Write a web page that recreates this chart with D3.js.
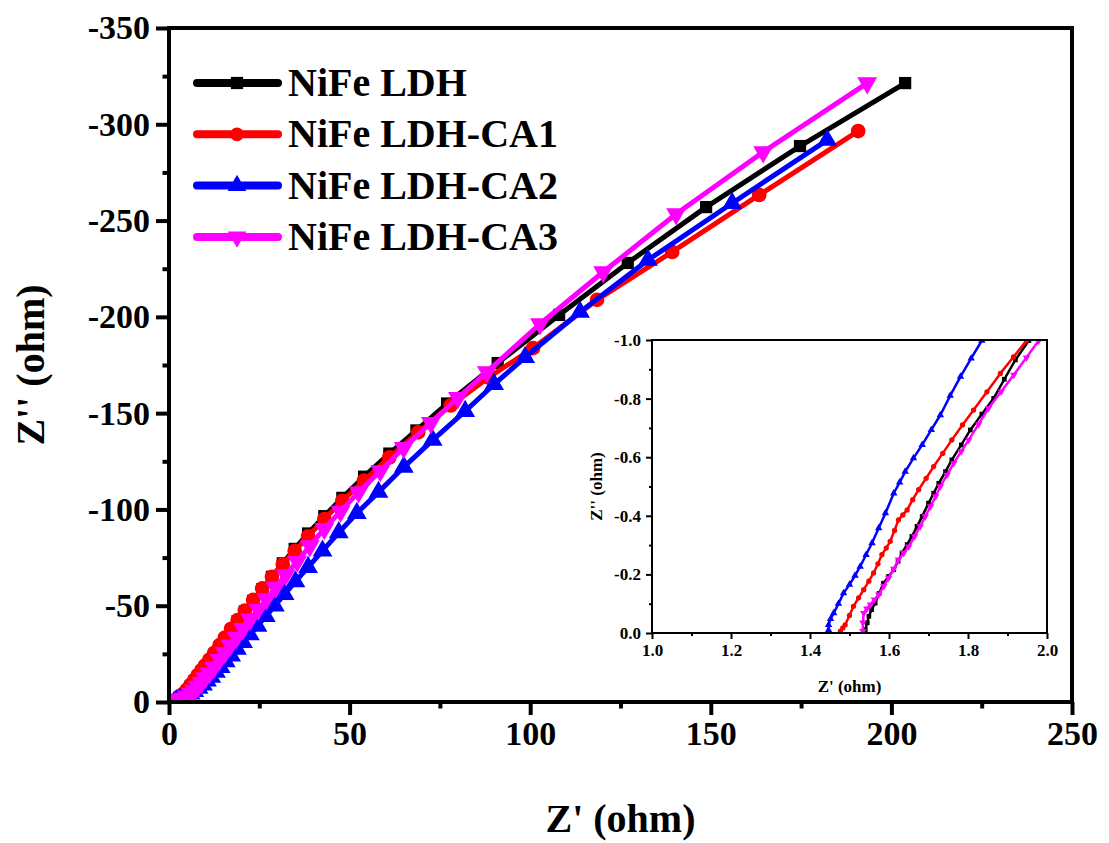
<!DOCTYPE html>
<html>
<head>
<meta charset="utf-8">
<script src="https://cdn.jsdelivr.net/npm/d3@7/dist/d3.min.js"></script>
<style>
  body { margin: 0; background: #fff; }
  text { font-family: "Liberation Serif", "Times New Roman", serif; font-weight: bold; }
</style>
</head>
<body>
<div id="chart"></div>
<script>
// series names and colours
const seriesNames = ["NiFe LDH", "NiFe LDH-CA1", "NiFe LDH-CA2", "NiFe LDH-CA3"];
const seriesColors = ["#000000", "#ff0000", "#0000ff", "#ff00ff"];
const seriesSymbols = ["square", "circle", "triangleUp", "triangleDown"];

// main Nyquist data: [Z', Z'']
const ldh = [[1.54,0],[2,-1],[3,-2],[4,-3.5],[5,-5.5],[6,-8],[7,-10.5],[8,-13],[9,-15.5],[10,-18],[11.2,-21],[12.5,-24.5],[14,-28.5],[15.5,-32.5],[17.2,-37],[19,-42],[21,-47],[23.3,-52.5],[25.8,-58.5],[28.5,-65],[31.5,-72],[34.8,-79.5],[38.5,-87.5],[43,-96.5],[48,-106],[54,-117],[61,-129],[68.5,-141],[77,-155],[91,-176],[108,-201],[127,-228],[148.7,-257],[174.7,-288.7],[203.8,-321.4]];
const ca1 = [[1.48,0],[2,-1.2],[3,-2.6],[4,-4.3],[5,-6.5],[6,-9],[7,-11.5],[8,-14],[9,-16.5],[10,-19],[11.2,-22],[12.5,-25.5],[14,-29.5],[15.5,-33.5],[17.2,-38],[19,-42.5],[21,-47.5],[23.3,-53],[25.8,-59],[28.5,-65],[31.5,-71.5],[34.8,-78.5],[38.5,-86],[43,-95],[48,-104.5],[54,-115],[61,-127],[69,-140],[78,-154],[88.5,-168.5],[100.8,-183.8],[118.5,-208.8],[139.3,-233.7],[163.4,-263.3],[190.8,-296.5]];
const ca2 = [[1.45,0],[2,-0.8],[3,-1.5],[4,-2.3],[5,-3.2],[6,-4.3],[7,-5.6],[8.2,-7.2],[9.4,-9],[10.5,-11],[11.7,-13],[13,-15.5],[14.3,-18],[15.7,-21],[17.2,-24],[18.8,-27.5],[20.5,-31],[22.4,-35],[24.5,-39.5],[26.8,-44.5],[29.3,-50],[32,-56],[35,-62.5],[38.5,-70],[42.5,-78.5],[47,-88],[52,-98],[58,-109],[65,-122],[73,-136],[82,-151],[90,-165],[98.6,-179],[113.8,-202.5],[132.6,-229.5],[155.9,-259],[182.2,-291.8]];
const ca3 = [[1.53,0],[2,-0.8],[3,-1.3],[4,-2],[5,-3],[6,-4.5],[7,-6],[8,-8],[9,-10],[10,-12.5],[11.2,-15],[12.5,-18],[14,-22],[15.5,-25.5],[17,-29.5],[18.7,-33.5],[20.5,-38],[22.5,-43],[24.7,-48],[27,-53.5],[29.5,-59.5],[32.3,-66],[35.5,-73],[39,-81],[43,-90],[47.5,-99],[52.5,-109],[58.5,-120],[65,-132],[72.5,-145],[80,-158],[88,-171.4],[102.7,-196.3],[120.2,-223.3],[140.4,-253.4],[164.5,-285.6],[193.3,-321.4]];

// inset (high frequency) data
const ldhIn = [[1.54,-0.011],[1.545,-0.035],[1.549,-0.057],[1.556,-0.08],[1.565,-0.102],[1.575,-0.135],[1.586,-0.17],[1.599,-0.193],[1.612,-0.216],[1.623,-0.245],[1.633,-0.273],[1.646,-0.302],[1.658,-0.33],[1.671,-0.364],[1.684,-0.398],[1.7,-0.443],[1.713,-0.477],[1.726,-0.511],[1.743,-0.551],[1.759,-0.591],[1.783,-0.642],[1.806,-0.693],[1.835,-0.747],[1.865,-0.801],[1.892,-0.866],[1.92,-0.932],[1.954,-0.998]];
const ca1In = [[1.477,-0.006],[1.483,-0.017],[1.489,-0.028],[1.5,-0.06],[1.51,-0.091],[1.523,-0.12],[1.536,-0.148],[1.549,-0.177],[1.561,-0.205],[1.572,-0.236],[1.582,-0.267],[1.593,-0.29],[1.603,-0.313],[1.614,-0.35],[1.624,-0.386],[1.635,-0.403],[1.646,-0.42],[1.66,-0.455],[1.675,-0.489],[1.694,-0.528],[1.713,-0.568],[1.736,-0.613],[1.759,-0.659],[1.786,-0.71],[1.814,-0.761],[1.848,-0.823],[1.882,-0.886],[1.915,-0.942],[1.948,-0.998]];
const ca2In = [[1.447,-0.01],[1.447,-0.028],[1.452,-0.048],[1.46,-0.068],[1.472,-0.1],[1.485,-0.136],[1.5,-0.165],[1.514,-0.196],[1.527,-0.227],[1.542,-0.267],[1.557,-0.307],[1.574,-0.358],[1.591,-0.409],[1.612,-0.477],[1.627,-0.514],[1.641,-0.551],[1.662,-0.597],[1.684,-0.642],[1.707,-0.693],[1.73,-0.744],[1.755,-0.81],[1.781,-0.875],[1.808,-0.937],[1.835,-0.998]];
const ca3In = [[1.534,-0.006],[1.534,-0.035],[1.536,-0.068],[1.544,-0.083],[1.553,-0.097],[1.563,-0.114],[1.574,-0.131],[1.587,-0.16],[1.599,-0.188],[1.612,-0.219],[1.624,-0.25],[1.637,-0.273],[1.65,-0.295],[1.665,-0.33],[1.679,-0.364],[1.692,-0.398],[1.705,-0.432],[1.718,-0.466],[1.73,-0.5],[1.747,-0.54],[1.764,-0.58],[1.783,-0.62],[1.802,-0.659],[1.827,-0.713],[1.852,-0.767],[1.884,-0.824],[1.916,-0.881],[1.948,-0.94],[1.979,-0.998]];

const mainData = [ldh, ca1, ca2, ca3];
const insetData = [ldhIn, ca1In, ca2In, ca3In];

const xTicks = [0, 50, 100, 150, 200, 250];
const yTicks = [0, -50, -100, -150, -200, -250, -300, -350];
const inXTicks = [1.0, 1.2, 1.4, 1.6, 1.8, 2.0];
const inYTicks = [0.0, -0.2, -0.4, -0.6, -0.8, -1.0];

const width = 1109, height = 843;
const svg = d3.select("#chart").append("svg")
    .attr("width", width)
    .attr("height", height);

function symbolPath(kind, size) {
    const t = {
        square: d3.symbolSquare, circle: d3.symbolCircle,
        triangleUp: d3.symbolTriangle, triangleDown: d3.symbolTriangle
    }[kind];
    return d3.symbol(t, size)();
}

function drawPanel(g, opt) {
    const x = d3.scaleLinear().domain(opt.xDomain).range([opt.left, opt.right]);
    const y = d3.scaleLinear().domain(opt.yDomain).range([opt.bottom, opt.top]);

    const clipId = opt.id + "-clip";
    g.append("clipPath").attr("id", clipId)
        .append("rect")
        .attr("x", opt.left).attr("y", opt.top)
        .attr("width", opt.right - opt.left).attr("height", opt.bottom - opt.top);

    const plot = g.append("g").attr("clip-path", `url(#${clipId})`);
    const line = d3.line().x(d => x(d[0])).y(d => y(d[1]));

    opt.data.forEach((series, i) => {
        plot.append("path")
            .datum(series)
            .attr("fill", "none")
            .attr("stroke", seriesColors[i])
            .attr("stroke-width", opt.lineWidth)
            .attr("stroke-linejoin", "round")
            .attr("d", line);
        plot.selectAll(null)
            .data(series)
            .join("path")
            .attr("transform", d => `translate(${x(d[0])},${y(d[1])})` +
                (seriesSymbols[i] === "triangleDown" ? " rotate(180)" : ""))
            .attr("fill", seriesColors[i])
            .attr("d", symbolPath(seriesSymbols[i], opt.markerSize[i]));
    });

    // axes
    const xAxis = d3.axisBottom(x).tickValues(opt.xTicks).tickSize(opt.tickLen)
        .tickPadding(opt.tickPad).tickFormat(opt.xFormat);
    const yAxis = d3.axisLeft(y).tickValues(opt.yTicks).tickSize(opt.tickLen)
        .tickPadding(opt.tickPad).tickFormat(opt.yFormat);
    const xMinor = d3.axisBottom(x).tickValues(opt.xMinor).tickSize(opt.tickLen / 2).tickFormat("");
    const yMinor = d3.axisLeft(y).tickValues(opt.yMinor).tickSize(opt.tickLen / 2).tickFormat("");

    [[xAxis, xMinor, `translate(0,${opt.bottom})`], [yAxis, yMinor, `translate(${opt.left},0)`]]
        .forEach(([ax, mi, tr]) => {
            const a = g.append("g").attr("transform", tr).call(ax);
            const m = g.append("g").attr("transform", tr).call(mi);
            [a, m].forEach(s => {
                s.select(".domain").remove();
                s.selectAll("line").attr("stroke", "#000").attr("stroke-width", opt.axisWidth);
            });
            a.selectAll("text").attr("fill", "#000").style("font-size", opt.tickFont + "px");
        });

    g.append("rect")
        .attr("x", opt.left).attr("y", opt.top)
        .attr("width", opt.right - opt.left).attr("height", opt.bottom - opt.top)
        .attr("fill", "none").attr("stroke", "#000").attr("stroke-width", opt.axisWidth);

    g.append("text")
        .attr("x", (opt.left + opt.right) / 2).attr("y", opt.xTitleY)
        .attr("text-anchor", "middle")
        .style("font-size", opt.titleFont + "px")
        .text("Z' (ohm)");
    g.append("text")
        .attr("transform", `translate(${opt.yTitleX},${(opt.top + opt.bottom) / 2}) rotate(-90)`)
        .attr("text-anchor", "middle")
        .style("font-size", opt.titleFont + "px")
        .text("Z'' (ohm)");
    return { x, y };
}

// main panel
drawPanel(svg.append("g"), {
    id: "main",
    left: 169, right: 1072, top: 28, bottom: 702,
    xDomain: [0, 250], yDomain: [0, -350],
    data: mainData,
    lineWidth: 5, markerSize: [150, 170, 170, 170],
    xTicks: xTicks, yTicks: yTicks,
    xMinor: d3.range(25, 250, 50), yMinor: d3.range(-25, -350, -50),
    xFormat: d3.format("d"), yFormat: d => d3.format("d")(d).replace("−", "-"),
    tickLen: 13, tickPad: 6, axisWidth: 4, tickFont: 34,
    titleFont: 40, xTitleY: 832, yTitleX: 44
});

// inset panel
drawPanel(svg.append("g"), {
    id: "inset",
    left: 652, right: 1047, top: 340, bottom: 633,
    xDomain: [1.0, 2.0], yDomain: [0, -1.0],
    data: insetData,
    lineWidth: 2.5, markerSize: [22, 22, 24, 24],
    xTicks: inXTicks, yTicks: inYTicks,
    xMinor: [1.1, 1.3, 1.5, 1.7, 1.9], yMinor: [-0.1, -0.3, -0.5, -0.7, -0.9],
    xFormat: d3.format(".1f"), yFormat: d => d3.format(".1f")(d).replace("−", "-"),
    tickLen: 6, tickPad: 5, axisWidth: 2, tickFont: 17,
    titleFont: 17, xTitleY: 692, yTitleX: 602
});

// legend
const legend = svg.append("g");
seriesNames.forEach((name, i) => {
    const ly = 83 + i * 51.3;
    legend.append("line")
        .attr("x1", 197).attr("x2", 278).attr("y1", ly).attr("y2", ly)
        .attr("stroke", seriesColors[i]).attr("stroke-width", 8)
        .attr("stroke-linecap", "round");
    legend.append("path")
        .attr("transform", `translate(237,${ly})` + (seriesSymbols[i] === "triangleDown" ? " rotate(180)" : ""))
        .attr("fill", seriesColors[i])
        .attr("d", symbolPath(seriesSymbols[i], 150));
    legend.append("text")
        .attr("x", 288).attr("y", ly + 13)
        .style("font-size", "40px")
        .text(name);
});
</script>
</body>
</html>
